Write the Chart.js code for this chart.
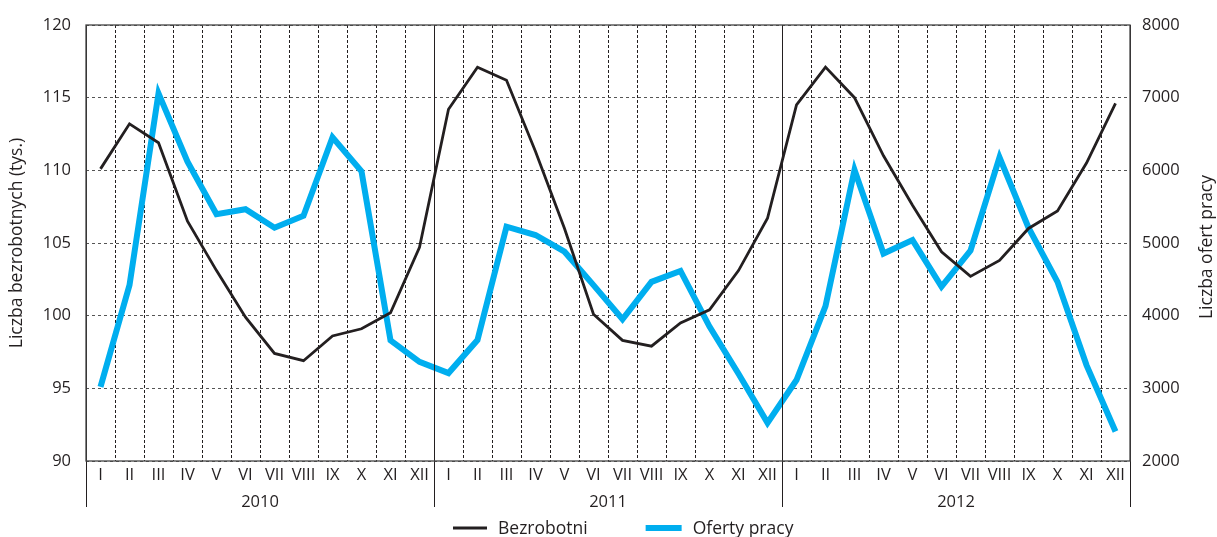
<!DOCTYPE html>
<html>
<head>
<meta charset="utf-8">
<script src="https://cdn.jsdelivr.net/npm/chart.js@4.4.0/dist/chart.umd.min.js"></script>
<style>
  html, body { margin: 0; padding: 0; background: #fff; }
  #wrap { width: 1217px; height: 537px; }
</style>
</head>
<body>
<div id="wrap"><canvas id="chart"></canvas></div>
<script>
const TEXT = "#231f20";
const FONT = "'Open Sans', 'Noto Sans', sans-serif";

// Months and years
const months = ["I", "II", "III", "IV", "V", "VI", "VII", "VIII", "IX", "X", "XI", "XII"];
const years = ["2010", "2011", "2012"];

// Liczba bezrobotnych (tys.), left axis
const bezrobotni = [
  110.1, 113.2, 111.9, 106.5, 103.1, 99.9, 97.4, 96.9, 98.6, 99.1, 100.2, 104.7,
  114.2, 117.1, 116.2, 111.3, 106.0, 100.1, 98.3, 97.9, 99.5, 100.4, 103.1, 106.7,
  114.5, 117.1, 115.0, 111.0, 107.6, 104.4, 102.7, 103.8, 106.0, 107.2, 110.5, 114.6,
];

// Liczba ofert pracy, right axis
const oferty = [
  3020, 4420, 7060, 6120, 5395, 5465, 5210, 5375, 6455, 5985, 3660, 3365,
  3210, 3665, 5225, 5110, 4880, 4420, 3950, 4465, 4615, 3850, 3200, 2525,
  3115, 4130, 6005, 4855, 5040, 4400, 4895, 6180, 5210, 4465, 3320, 2405,
];

// Axis ranges
const leftRange = { min: 90, max: 120, step: 5 };
const rightRange = { min: 2000, max: 8000, step: 1000 };

const labels = years.flatMap(() => months);

// Year separators, year names, right title and legend
const extras = {
  id: "extras",
  afterDraw(chart) {
    const { ctx, chartArea: a, scales } = chart;
    const x = scales.x;
    const n = labels.length;
    const edge = (k) => {
      if (k === 0) return a.left;
      if (k === n) return a.right;
      return (x.getPixelForValue(k - 1) + x.getPixelForValue(k)) / 2;
    };

    ctx.save();
    ctx.strokeStyle = TEXT;
    ctx.lineWidth = 1;
    for (let k = 0; k <= n; k += months.length) {
      const px = Math.round(edge(k)) + 0.5;
      ctx.beginPath();
      ctx.moveTo(px, a.top);
      ctx.lineTo(px, a.bottom + 46);
      ctx.stroke();
    }
    // frame
    ctx.strokeStyle = "#444";
    ctx.lineWidth = 1.3;
    ctx.strokeRect(a.left, a.top, a.right - a.left, a.bottom - a.top);

    // year labels
    ctx.fillStyle = TEXT;
    ctx.font = "16.5px " + FONT;
    ctx.textAlign = "center";
    ctx.textBaseline = "middle";
    years.forEach((yr, i) => {
      const c = (edge(i * 12) + edge(i * 12 + 12)) / 2;
      ctx.fillText(yr, c, a.bottom + 41);
    });

    // right axis title, bottom-to-top
    ctx.font = "17.5px " + FONT;
    ctx.save();
    ctx.translate(1207, (a.top + a.bottom) / 2 + 4);
    ctx.rotate(-Math.PI / 2);
    ctx.fillText("Liczba ofert pracy", 0, 0);
    ctx.restore();

    // legend
    const ds = chart.data.datasets;
    ctx.textAlign = "left";
    ctx.textBaseline = "alphabetic";
    const sample = [34, 36];
    const widths = ds.map((d) => ctx.measureText(d.label).width);
    const gap = 58;
    const total = sample[0] + 11 + widths[0] + gap + sample[1] + 11 + widths[1];
    let lx = 453;
    const ly = 528;
    ds.forEach((d, i) => {
      ctx.strokeStyle = d.borderColor;
      ctx.lineWidth = d.borderWidth;
      ctx.beginPath();
      ctx.moveTo(lx, ly);
      ctx.lineTo(lx + sample[i], ly);
      ctx.stroke();
      lx += sample[i] + 11;
      ctx.fillText(d.label, lx, 534);
      lx += widths[i] + gap;
    });
    ctx.restore();
  },
};

const ctx = document.getElementById("chart").getContext("2d");
new Chart(ctx, {
  type: "line",
  data: {
    labels: labels,
    datasets: [
      {
        label: "Bezrobotni",
        data: bezrobotni,
        yAxisID: "y",
        borderColor: TEXT,
        borderWidth: 2.8,
        pointRadius: 0,
        tension: 0,
        fill: false,
      },
      {
        label: "Oferty pracy",
        data: oferty,
        yAxisID: "y2",
        borderColor: "#00aeef",
        borderWidth: 6,
        pointRadius: 0,
        tension: 0,
        fill: false,
      },
    ],
  },
  options: {
    responsive: true,
    maintainAspectRatio: false,
    animation: false,
    layout: { padding: { top: 25, left: 0, right: 0, bottom: 30 } },
    plugins: {
      legend: { display: false },
      tooltip: { enabled: false },
    },
    scales: {
      x: {
        offset: true,
        grid: {
          offset: true,
          drawTicks: false,
          color: (c) => (c.index % 12 === 0 ? "rgba(0,0,0,0)" : TEXT),
        },
        border: { display: false, dash: [3, 2] },
        ticks: {
          color: TEXT,
          font: { family: FONT, size: 16.5 },
          padding: 4,
          maxRotation: 0,
          autoSkip: false,
        },
        afterFit: (s) => { s.height = 46; },
      },
      y: {
        position: "left",
        min: leftRange.min,
        max: leftRange.max,
        ticks: {
          stepSize: leftRange.step,
          color: TEXT,
          font: { family: FONT, size: 16.5 },
          padding: 15,
        },
        grid: { color: "#555", drawTicks: false },
        border: { display: false, dash: [3, 3] },
        title: {
          display: true,
          text: "Liczba bezrobotnych (tys.)",
          color: TEXT,
          font: { family: FONT, size: 17.5 },
          padding: { top: 7, bottom: 0 },
        },
        afterFit: (s) => { s.width = 86; },
      },
      y2: {
        position: "right",
        min: rightRange.min,
        max: rightRange.max,
        ticks: {
          stepSize: rightRange.step,
          color: TEXT,
          font: { family: FONT, size: 16.5 },
          padding: 12,
          callback: (v) => String(v),
        },
        grid: { drawOnChartArea: false, drawTicks: false },
        border: { display: false },
        afterFit: (s) => { s.width = 87; },
      },
    },
  },
  plugins: [extras],
});
</script>
</body>
</html>
